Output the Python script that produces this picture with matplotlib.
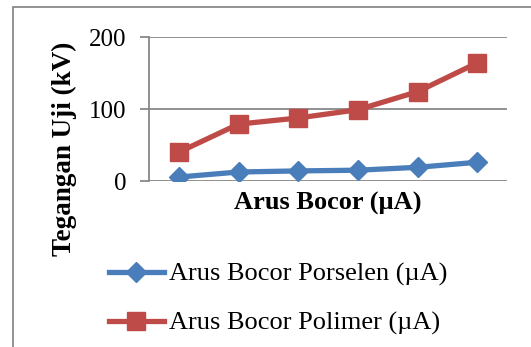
import matplotlib
matplotlib.use("Agg")
import matplotlib.pyplot as plt
from matplotlib.patches import Rectangle

categories = [1, 2, 3, 4, 5, 6]
porselen = [5.5, 12.5, 14, 15, 19, 26]
polimer = [40, 79, 87.5, 99, 124, 164]
yticks = [0, 100, 200]

plt.rcParams['font.family'] = ['Liberation Serif', 'DejaVu Serif']

fig = plt.figure(figsize=(5.31, 3.47), dpi=100)
# outer chart frame (cut off at right and bottom)
fig.patches.append(Rectangle((13 / 531, -0.1), 1.2, 1 - 7 / 347 + 0.1,
                             transform=fig.transFigure, fill=False,
                             edgecolor='#808080', linewidth=1.2))

ax = fig.add_axes([149 / 531, 1 - 181 / 347, 358 / 531, 144 / 347])
ax.plot(categories, porselen, color='#4A7EBB', linewidth=3.8, marker='D',
        markersize=10, label='Arus Bocor Porselen (\u00b5A)')
ax.plot(categories, polimer, color='#BE4B48', linewidth=3.8, marker='s',
        markersize=12.5, label='Arus Bocor Polimer (\u00b5A)')

ax.set_xlim(0.5, 6.5)
ax.set_ylim(0, 200)
ax.set_yticks(yticks)
ax.set_xticks([])
ax.grid(axis='y', color='#888888', linewidth=1.3)
ax.set_axisbelow(True)
for s in ['top', 'right', 'bottom']:
    ax.spines[s].set_visible(False)
ax.spines['left'].set_color('#888888')
ax.spines['left'].set_linewidth(1.3)
ax.tick_params(axis='y', length=6.5, width=1.3, color='#888888',
               labelsize=18, pad=10)
ax.set_xlabel('Arus Bocor (\u00b5A)', fontsize=19, fontweight='bold', labelpad=8)
ax.set_ylabel('Tegangan Uji (kV)', fontsize=19.5, fontweight='bold')
ax.yaxis.set_label_coords((64 - 149) / 358, (181 - 149) / 144)
ax.yaxis.label.set_verticalalignment('center')

handles, labels = ax.get_legend_handles_labels()
fig.legend(handles, labels, loc='upper left', bbox_to_anchor=(98 / 531, 1 - 252 / 347),
           frameon=False, fontsize=19, handlelength=2.1, handletextpad=0.2,
           labelspacing=0.95, borderaxespad=0)

fig.savefig('out.png', dpi=100)
